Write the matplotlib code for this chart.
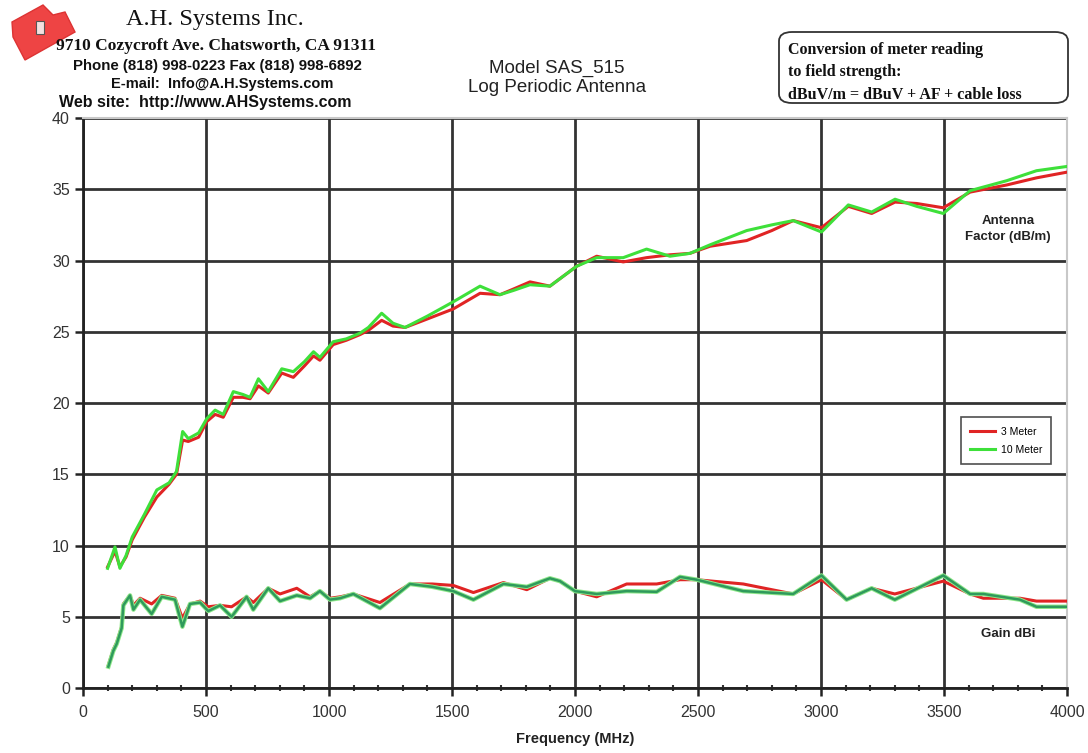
import matplotlib
matplotlib.use("Agg")
import matplotlib.pyplot as plt
from matplotlib.patches import FancyBboxPatch, Polygon, Rectangle
from matplotlib.ticker import MultipleLocator

plt.rcParams["font.family"] = ["Liberation Sans", "DejaVu Sans"]

# Antenna factor (dB/m)
af_freq = [100, 130, 150, 175, 200, 250, 300, 350, 380, 405, 428, 470, 503, 537,
           570, 611, 650, 679, 713, 753, 808, 855, 900, 937, 963, 1017, 1070,
           1126, 1160, 1214, 1260, 1309, 1400, 1505, 1614, 1695, 1750, 1817,
           1898, 2007, 2088, 2196, 2291, 2386, 2467, 2549, 2698, 2800, 2887,
           3002, 3111, 3206, 3301, 3389, 3497, 3606, 3755, 3876, 4000]
af_3m = [8.5, 9.6, 8.5, 9.2, 10.4, 12.0, 13.4, 14.3, 15.0, 17.4, 17.3, 17.6,
         18.7, 19.2, 19.0, 20.4, 20.4, 20.3, 21.2, 20.7, 22.1, 21.8, 22.6, 23.3,
         23.0, 24.1, 24.4, 24.8, 25.1, 25.8, 25.4, 25.3, 25.9, 26.6, 27.7, 27.6,
         28.0, 28.5, 28.2, 29.6, 30.3, 29.9, 30.2, 30.4, 30.5, 31.0, 31.4, 32.1,
         32.8, 32.3, 33.8, 33.3, 34.1, 34.0, 33.7, 34.8, 35.3, 35.8, 36.2]
af_10m = [8.4, 9.9, 8.4, 9.3, 10.6, 12.2, 13.9, 14.4, 15.2, 18.0, 17.5, 17.9,
          18.9, 19.5, 19.2, 20.8, 20.6, 20.4, 21.7, 20.8, 22.4, 22.2, 22.9, 23.6,
          23.2, 24.3, 24.5, 24.9, 25.3, 26.3, 25.6, 25.3, 26.1, 27.1, 28.2, 27.6,
          27.9, 28.3, 28.2, 29.6, 30.2, 30.2, 30.8, 30.3, 30.5, 31.1, 32.1, 32.5,
          32.8, 32.0, 33.9, 33.4, 34.3, 33.8, 33.3, 34.9, 35.6, 36.3, 36.6]

# Gain (dBi)
gain_freq = [103, 123, 137, 157, 164, 191, 205, 232, 279, 320, 374, 404, 435,
             476, 509, 557, 604, 665, 692, 753, 801, 869, 923, 963, 1004, 1045,
             1099, 1207, 1329, 1420, 1505, 1587, 1709, 1804, 1898, 1939, 2000,
             2088, 2210, 2332, 2427, 2495, 2684, 2887, 3002, 3104, 3206, 3300,
             3497, 3606, 3660, 3809, 3876, 4000]
gain_3m = [1.6, 2.7, 3.2, 4.3, 5.9, 6.5, 5.8, 6.3, 5.9, 6.5, 6.3, 4.9, 5.9, 6.1,
           5.7, 5.8, 5.7, 6.4, 6.0, 7.0, 6.6, 7.0, 6.4, 6.8, 6.3, 6.4, 6.6, 6.0,
           7.3, 7.3, 7.2, 6.7, 7.4, 6.9, 7.7, 7.5, 6.8, 6.4, 7.3, 7.3, 7.6, 7.6,
           7.3, 6.6, 7.6, 6.2, 7.0, 6.6, 7.5, 6.6, 6.3, 6.3, 6.1, 6.1]
gain_10m = [1.5, 2.6, 3.1, 4.2, 5.8, 6.5, 5.5, 6.2, 5.2, 6.4, 6.2, 4.3, 5.9, 6.0,
            5.4, 5.8, 5.0, 6.4, 5.5, 7.0, 6.1, 6.5, 6.3, 6.8, 6.2, 6.3, 6.6, 5.6,
            7.3, 7.1, 6.8, 6.2, 7.3, 7.1, 7.7, 7.5, 6.8, 6.6, 6.8, 6.75, 7.8, 7.6,
            6.8, 6.6, 7.9, 6.2, 7.0, 6.2, 7.9, 6.6, 6.6, 6.2, 5.7, 5.7]

RED = "#e02424"
LIME = "#3ee03a"
DARK_GREEN = "#2f9a5c"

fig = plt.figure(figsize=(10.88, 7.53), dpi=100)
ax = fig.add_axes((0.0763, 0.0863, 0.9044, 0.757))

ax.plot(af_freq, af_3m, color=RED, lw=2.2, label="3 Meter", zorder=3)
ax.plot(af_freq, af_10m, color=LIME, lw=2.2, label="10 Meter", zorder=4)
ax.plot(gain_freq, gain_3m, color=RED, lw=2.2, zorder=3)
ax.plot(gain_freq, gain_10m, color="#8fe88a", lw=3.2, zorder=4)
ax.plot(gain_freq, gain_10m, color=DARK_GREEN, lw=1.8, zorder=5)

ax.set_xlim(0, 4000)
ax.set_ylim(0, 40)
ax.xaxis.set_major_locator(MultipleLocator(500))
ax.xaxis.set_minor_locator(MultipleLocator(100))
ax.yaxis.set_major_locator(MultipleLocator(5))

ax.grid(True, which="major", color="#333333", lw=2.0)
ax.set_axisbelow(True)
# the 40 / 4000 borders are drawn light, not as grid lines
for line in ax.get_ygridlines()[-1:]:
    line.set_visible(False)
for line in ax.get_xgridlines()[-1:]:
    line.set_visible(False)

for side in ("left", "bottom"):
    ax.spines[side].set_color("#222222")
    ax.spines[side].set_linewidth(2.0)
for side in ("top", "right"):
    ax.spines[side].set_color("#c8c8c8")
    ax.spines[side].set_linewidth(1.5)

ax.tick_params(axis="both", which="major", direction="out", length=6, width=1.8,
               color="#222222", labelsize=11.5, labelcolor="#333333")
ax.tick_params(axis="x", which="minor", direction="inout", length=4, width=1.5,
               color="#333333")
ax.tick_params(axis="x", which="major", pad=6)

ax.set_xlabel("Frequency (MHz)", fontsize=10.5, fontweight="bold",
              color="#222222", labelpad=9)

ax.text(3760, 32.2, "Antenna\nFactor (dB/m)", ha="center", va="center",
        fontsize=9.5, fontweight="bold", color="#222222", linespacing=1.5)
ax.text(3760, 3.8, "Gain dBi", ha="center", va="center", fontsize=9.5,
        fontweight="bold", color="#222222")

leg = ax.legend(loc="upper left", bbox_to_anchor=(0.887, 0.484), fontsize=7.5,
                frameon=True, fancybox=False, handlelength=2.4, borderpad=0.9,
                labelspacing=0.8, handletextpad=0.5)
leg.get_frame().set_edgecolor("#222222")
leg.get_frame().set_linewidth(1.2)

W, H = 1088, 753

# title
fig.text(557 / W, 1 - 68 / H, "Model SAS_515", ha="center", va="center",
         fontsize=13.5, color="#222222")
fig.text(557 / W, 1 - 88 / H, "Log Periodic Antenna", ha="center",
         va="center", fontsize=13.5, color="#222222")

# company header
serif = ["Liberation Serif", "DejaVu Serif"]
fig.text(215 / W, 1 - 20 / H, "A.H. Systems Inc.", ha="center", va="center",
         fontsize=17.5, family=serif, color="#111111")
fig.text(216 / W, 1 - 46 / H, "9710 Cozycroft Ave. Chatsworth, CA 91311",
         ha="center", va="center", fontsize=12.5, family=serif,
         fontweight="bold", color="#111111")
fig.text(217 / W, 1 - 66 / H, "Phone (818) 998-0223 Fax (818) 998-6892",
         ha="center", va="center", fontsize=10.8, fontweight="bold",
         color="#111111")
fig.text(222 / W, 1 - 84 / H, "E-mail:  Info@A.H.Systems.com", ha="center",
         va="center", fontsize=10.5, fontweight="bold", color="#111111")
fig.text(205 / W, 1 - 102 / H, "Web site:  http://www.AHSystems.com",
         ha="center", va="center", fontsize=11.5, fontweight="bold",
         color="#111111")

# logo
logo_pts = [(12, 22), (43, 5), (53, 15), (65, 12), (75, 32), (25, 60), (13, 37)]
fig.patches.append(Polygon([(x / W, 1 - y / H) for x, y in logo_pts],
                           closed=True, transform=fig.transFigure,
                           facecolor="#ee4444", edgecolor="#dd3333", lw=1))
fig.patches.append(Rectangle((36 / W, 1 - 34 / H), 8 / W, 13 / H,
                             transform=fig.transFigure, facecolor="#f4e0e0",
                             edgecolor="#555555", lw=0.8))

# conversion box
box = FancyBboxPatch((779 / W, 1 - 103 / H), 289 / W, 71 / H,
                     boxstyle="round,pad=0,rounding_size=0.012",
                     transform=fig.transFigure, facecolor="white",
                     edgecolor="#333333", lw=1.3)
fig.patches.append(box)
for ypx, line in [(50, "Conversion of meter reading"),
                  (72, "to field strength:"),
                  (95, "dBuV/m = dBuV + AF + cable loss")]:
    fig.text(788 / W, 1 - ypx / H, line, ha="left", va="center", fontsize=11.5,
             family=serif, fontweight="bold", color="#111111")

fig.savefig("out.png", dpi=100)
